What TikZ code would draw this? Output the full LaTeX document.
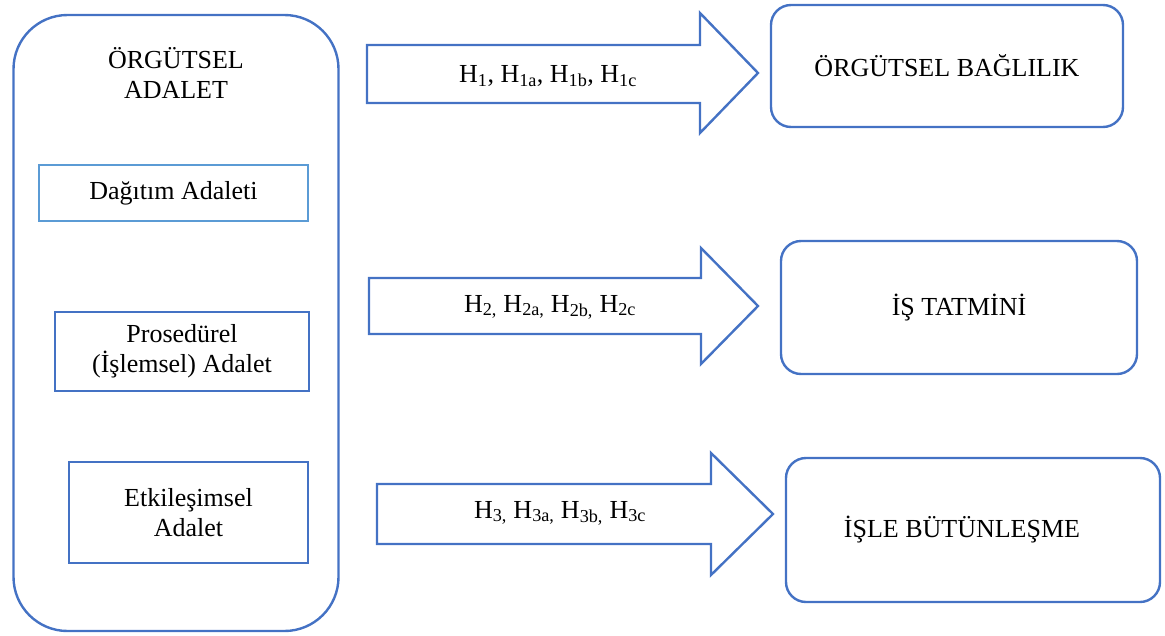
\documentclass[tikz,border=0pt]{standalone}
\usepackage{fontspec}
\setmainfont{Liberation Serif}
\usetikzlibrary{positioning}
\definecolor{boxblue}{HTML}{4472C4}
\definecolor{lightblue}{HTML}{5B9BD5}
\tikzset{
  outline/.style={draw=boxblue,line width=2.4pt,line join=miter},
  dimbox/.style={draw=boxblue,line width=2.4pt,align=center,inner sep=0pt},
  resultbox/.style={draw=boxblue,line width=2.4pt,rounded corners=20pt,align=center,inner sep=0pt}
}
\begin{document}
\begin{tikzpicture}[x=1pt,y=-1pt,font=\fontsize{26}{30}\selectfont]
  \useasboundingbox (0,0) rectangle (1165,635);

  %left frame
  \node[draw=boxblue,line width=2.4pt,rounded corners=54pt,minimum width=325pt,minimum height=616pt] (adalet) at (176,323) {};
  \node[align=center] (baslik) at (176,73) {ÖRGÜTSEL\\ADALET};

  %dimensions
  \node[dimbox,draw=lightblue,minimum width=269pt,minimum height=56pt] (dagitim) at (173.5,193) {Dağıtım Adaleti};
  \node[dimbox,minimum width=254pt,minimum height=79pt] (prosedur) at (182,351.5) {Prosedürel\\(İşlemsel) Adalet};
  \node[dimbox,minimum width=239pt,minimum height=101pt] (etkilesim) at (188.5,512.5) {Etkileşimsel\\Adalet};

  %outcomes
  \node[resultbox,minimum width=352pt,minimum height=122pt] (baglilik) at (947,66) {ÖRGÜTSEL BAĞLILIK};
  \node[resultbox,minimum width=356pt,minimum height=133pt] (tatmin) at (959,307.5) {İŞ TATMİNİ};
  \node[resultbox,minimum width=374pt,minimum height=144pt] (butunlesme) at (973,530) {\hspace*{-22pt}İŞLE BÜTÜNLEŞME};

  %arrows
  \draw[outline] (367,45) -- (700,45) -- (700,13) -- (758,73) -- (700,133) -- (700,103) -- (367,103) -- cycle;
  \draw[outline] (369,278) -- (701,278) -- (701,248) -- (758,306) -- (701,364) -- (701,334) -- (369,334) -- cycle;
  \draw[outline] (377,484) -- (711,484) -- (711,453) -- (773,514) -- (711,575) -- (711,544) -- (377,544) -- cycle;

  %hypotheses
  \node (h1) at (548,76) {H\textsubscript{1}, H\textsubscript{1a}, H\textsubscript{1b}, H\textsubscript{1c}};
  \node (h2) at (550,307) {H\textsubscript{2,} H\textsubscript{2a,} H\textsubscript{2b,} H\textsubscript{2c}};
  \node (h3) at (560,513) {H\textsubscript{3,} H\textsubscript{3a,} H\textsubscript{3b,} H\textsubscript{3c}};
\end{tikzpicture}
\end{document}
